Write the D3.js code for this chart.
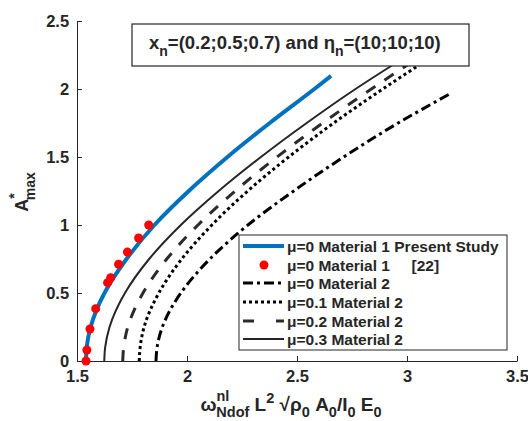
<!DOCTYPE html>
<html lang="en">
<head>
<meta charset="UTF-8">
<title>Amax vs nonlinear frequency</title>
<script src="https://cdn.jsdelivr.net/npm/d3@7"></script>
<style>
  body { margin: 0; background: #fff; }
  text { font-family: Arial, "Liberation Sans", sans-serif; font-weight: bold; fill: #262626; white-space: pre; }
</style>
</head>
<body>
<script>
// amplitudes (y) and frequencies (x)
var ampBlue = [0, 0.1, 0.25, 0.5, 0.75, 1, 1.25, 1.5, 1.75, 2, 2.096];
var freqBlue = [1.541, 1.544, 1.562, 1.625, 1.725, 1.852, 2.008, 2.184, 2.376, 2.579, 2.655];

var ampRef = [0, 0.081, 0.235, 0.385, 0.576, 0.613, 0.711, 0.801, 0.904, 1.0];
var freqRef = [1.541, 1.545, 1.559, 1.585, 1.639, 1.653, 1.689, 1.729, 1.780, 1.826];

var ampMu0 = [0, 0.1, 0.25, 0.5, 0.75, 1, 1.25, 1.5, 1.75, 1.96];
var freqMu0 = [1.859, 1.864, 1.888, 1.972, 2.104, 2.277, 2.485, 2.712, 2.960, 3.19];

var ampMu01 = [0, 0.1, 0.25, 0.5, 0.75, 1, 1.25, 1.5, 1.75, 2, 2.228];
var freqMu01 = [1.783, 1.787, 1.805, 1.872, 1.976, 2.113, 2.276, 2.462, 2.667, 2.89, 3.105];

var ampMu02 = [0, 0.1, 0.25, 0.5, 0.75, 1, 1.25, 1.5, 1.75, 2, 2.213];
var freqMu02 = [1.708, 1.712, 1.731, 1.800, 1.908, 2.050, 2.219, 2.409, 2.617, 2.838, 3.036];

var ampMu03 = [0, 0.1, 0.25, 0.5, 0.75, 1, 1.25, 1.5, 1.75, 2, 2.206];
var freqMu03 = [1.624, 1.628, 1.648, 1.718, 1.828, 1.972, 2.144, 2.336, 2.544, 2.766, 2.964];

var xTicks = [1.5, 2, 2.5, 3, 3.5];
var xTickLabels = ["1.5", "2", "2.5", "3", "3.5"];
var yTicks = [0, 0.5, 1, 1.5, 2, 2.5];
var yTickLabels = ["0", "0.5", "1", "1.5", "2", "2.5"];

var legendLabels = ["\u03bc=0 Material 1 Present Study", "\u03bc=0 Material 1     [22]",
    "\u03bc=0 Material 2", "\u03bc=0.1 Material 2", "\u03bc=0.2 Material 2", "\u03bc=0.3 Material 2"];

var W = 528, H = 421;
var svg = d3.select("body").append("svg").attr("width", W).attr("height", H);

var x = d3.scaleLinear().domain([1.5, 3.5]).range([77, 517]);
var y = d3.scaleLinear().domain([0, 2.5]).range([361, 21]);

// axes (ticks inward, like matlab)
var xAxis = d3.axisBottom(x).tickValues(xTicks).tickSize(-5).tickSizeOuter(0)
    .tickFormat(function (d, i) { return xTickLabels[i]; });
var yAxis = d3.axisLeft(y).tickValues(yTicks).tickSize(-5).tickSizeOuter(0)
    .tickFormat(function (d, i) { return yTickLabels[i]; });

var gx = svg.append("g").attr("transform", "translate(0," + y(0) + ")").call(xAxis);
var gy = svg.append("g").attr("transform", "translate(" + x(1.5) + ",0)").call(yAxis);
[gx, gy].forEach(function (g) {
    g.select(".domain").attr("stroke", "#262626");
    g.selectAll(".tick line").attr("stroke", "#262626");
    g.selectAll(".tick text").attr("font-size", "16.5px").attr("font-family", null).attr("fill", "#262626");
});
gx.selectAll(".tick text").attr("dy", "1.1em");
gy.selectAll(".tick text").attr("dx", "-0.3em");

function toPts(amp, freq) {
    return amp.map(function (a, i) { return [freq[i], a]; });
}

var line = d3.line()
    .x(function (d) { return x(d[0]); })
    .y(function (d) { return y(d[1]); })
    .curve(d3.curveMonotoneY);

var series = [
    {amp: ampMu0, freq: freqMu0, color: "#000", width: 3, dash: "10,4,3,4"},
    {amp: ampMu01, freq: freqMu01, color: "#000", width: 3, dash: "3,3"},
    {amp: ampMu02, freq: freqMu02, color: "#2b2b2b", width: 3, dash: "11,11"},
    {amp: ampMu03, freq: freqMu03, color: "#262626", width: 2, dash: null},
    {amp: ampBlue, freq: freqBlue, color: "#0072BD", width: 4, dash: null}
];

series.forEach(function (s) {
    svg.append("path")
        .attr("d", line(toPts(s.amp, s.freq)))
        .attr("fill", "none")
        .attr("stroke", s.color)
        .attr("stroke-width", s.width)
        .attr("stroke-dasharray", s.dash);
});

svg.selectAll("circle.ref").data(toPts(ampRef, freqRef)).enter().append("circle")
    .attr("class", "ref")
    .attr("cx", function (d) { return x(d[0]); })
    .attr("cy", function (d) { return y(d[1]); })
    .attr("r", 4.5)
    .attr("fill", "#ff0000");

// title box
svg.append("rect").attr("x", 132).attr("y", 24).attr("width", 337).attr("height", 42)
    .attr("fill", "#fff").attr("stroke", "#262626").attr("stroke-width", 1.2);
var t = svg.append("text").attr("x", 149).attr("y", 49).attr("font-size", "18.5px");
t.append("tspan").text("x");
t.append("tspan").attr("font-size", "14px").attr("dy", 7).text("n");
t.append("tspan").attr("dy", -7).text("=(0.2;0.5;0.7) and \u03b7");
t.append("tspan").attr("font-size", "14px").attr("dy", 7).text("n");
t.append("tspan").attr("dy", -7).text("=(10;10;10)");

// legend
var lg = svg.append("g");
lg.append("rect").attr("x", 239).attr("y", 235).attr("width", 268).attr("height", 115)
    .attr("fill", "#fff").attr("stroke", "#262626").attr("stroke-width", 1);
var legStyles = [
    {color: "#0072BD", width: 4, dash: null, dot: false},
    {color: "#ff0000", dot: true},
    {color: "#000", width: 3, dash: "10,4,3,4"},
    {color: "#000", width: 3, dash: "3,3"},
    {color: "#2b2b2b", width: 3, dash: "11,22"},
    {color: "#262626", width: 2, dash: null}
];
var rowY = [246, 265, 283, 302, 321, 339];
legendLabels.forEach(function (lab, i) {
    var st = legStyles[i];
    if (st.dot) {
        lg.append("circle").attr("cx", 264).attr("cy", rowY[i]).attr("r", 4.5).attr("fill", st.color);
    } else {
        lg.append("line").attr("x1", 243).attr("x2", 284).attr("y1", rowY[i]).attr("y2", rowY[i])
            .attr("stroke", st.color).attr("stroke-width", st.width).attr("stroke-dasharray", st.dash);
    }
    lg.append("text").attr("x", 287).attr("y", rowY[i]).attr("dy", "0.36em")
        .attr("font-size", "15.5px").text(lab);
});

// y label
var yl = svg.append("text").attr("transform", "translate(28,192) rotate(-90)")
    .attr("text-anchor", "middle").attr("font-size", "18px");
yl.append("tspan").text("A");
yl.append("tspan").attr("font-size", "14px").attr("dy", -9).text("*");
yl.append("tspan").attr("font-size", "14px").attr("dx", -7).attr("dy", 16).text("max");

// x label
var xl = svg.append("text").attr("x", 291).attr("y", 411).attr("text-anchor", "middle").attr("font-size", "19px");
xl.append("tspan").text("\u03c9");
xl.append("tspan").attr("font-size", "14.5px").attr("dy", -10).text("nl");
xl.append("tspan").attr("font-size", "14.5px").attr("dx", -13).attr("dy", 16).text("Ndof");
xl.append("tspan").attr("dy", -6).text(" L");
xl.append("tspan").attr("font-size", "14.5px").attr("dy", -8).text("2");
xl.append("tspan").attr("dy", 8).text(" \u221a\u03c1");
xl.append("tspan").attr("font-size", "14.5px").attr("dy", 6).text("0");
xl.append("tspan").attr("dy", -6).text(" A");
xl.append("tspan").attr("font-size", "14.5px").attr("dy", 6).text("0");
xl.append("tspan").attr("dy", -6).text("/I");
xl.append("tspan").attr("font-size", "14.5px").attr("dy", 6).text("0");
xl.append("tspan").attr("dy", -6).text(" E");
xl.append("tspan").attr("font-size", "14.5px").attr("dy", 6).text("0");
</script>
</body>
</html>
